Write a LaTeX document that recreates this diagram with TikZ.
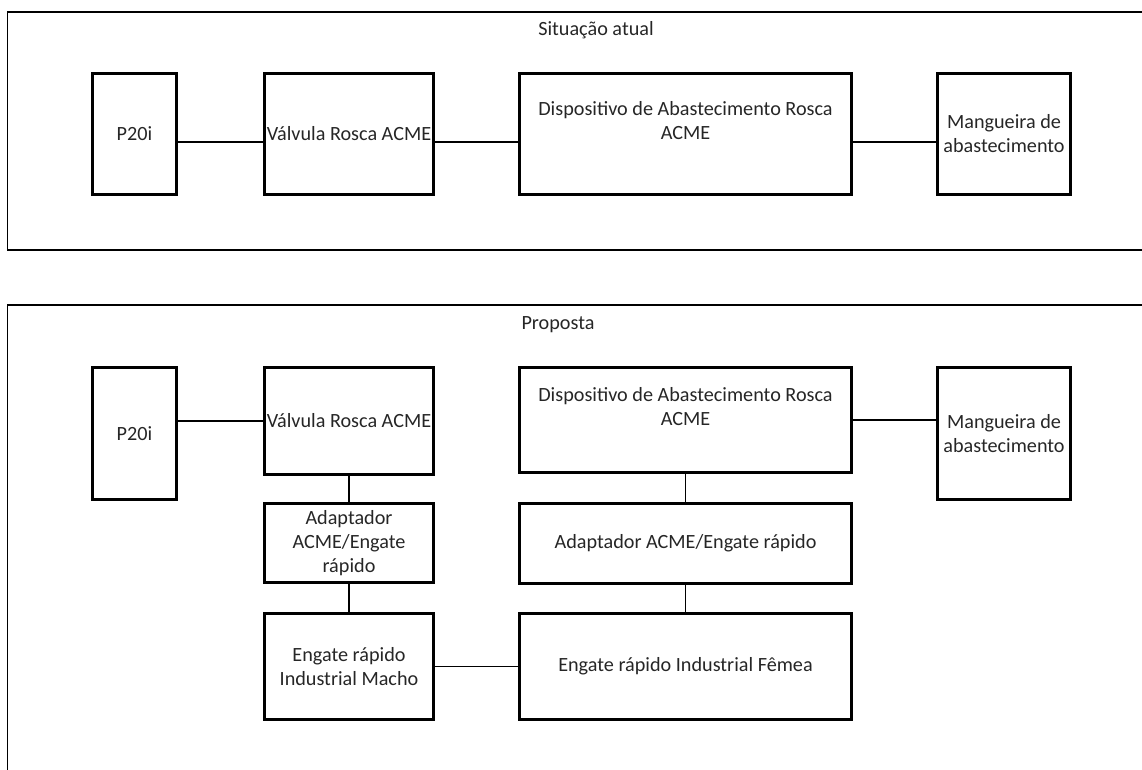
\documentclass[tikz,border=0pt]{standalone}
\usepackage{fontspec}
\setmainfont{Carlito}
\begin{document}
\begin{tikzpicture}[x=1pt,y=-1pt,
  box/.style={draw, line width=3pt, align=center, inner sep=0pt,
    font=\fontsize{20.2}{24}\selectfont, text=black!85},
  link/.style={line width=1.6pt},
  frame/.style={line width=2pt},
  frameside/.style={line width=1pt},
  title/.style={font=\fontsize{20.2}{24}\selectfont, text=black!85, inner sep=0pt}]
\useasboundingbox (0,0) rectangle (1142,769);

% ---- frames ----
\coordinate (f1a) at (1160,12);
\coordinate (f1b) at (7,12);
\coordinate (f1c) at (7,250);
\coordinate (f1d) at (1160,250);
\draw[frame] (f1a) -- (f1b);
\draw[frameside] (f1b) -- (f1c);
\draw[frame] (f1c) -- (f1d);

\coordinate (f2a) at (1160,305);
\coordinate (f2b) at (7,305);
\coordinate (f2c) at (7,790);
\draw[frame] (f2a) -- (f2b);
\draw[frameside] (f2b) -- (f2c);

\node[title] (t1) at (596,30) {Situação atual};
\node[title] (t2) at (558,325) {Proposta};

% ---- current situation ----
\node[box, minimum width=84pt, minimum height=121pt] (p1) at (134.5,134) {P20i};
\node[box, minimum width=169pt, minimum height=121pt] (v1) at (349,134) {Válvula Rosca ACME};
\node[box, minimum width=332pt, minimum height=121pt] (d1) at (685.5,134) {Dispositivo de Abastecimento Rosca\\ACME\\[3pt]};
\node[box, minimum width=133pt, minimum height=121pt] (m1) at (1004,134) {Mangueira de\\abastecimento};

\coordinate (y1) at (0,142);
\draw[link] (p1.east |- y1) -- (v1.west |- y1);
\draw[link] (v1.east |- y1) -- (d1.west |- y1);
\draw[link] (d1.east |- y1) -- (m1.west |- y1);

% ---- proposal ----
\node[box, minimum width=84pt, minimum height=132pt] (p2) at (134.5,433.5) {P20i};
\node[box, minimum width=169pt, minimum height=107pt] (v2) at (349,421) {Válvula Rosca ACME};
\node[box, minimum width=332pt, minimum height=105pt] (d2) at (685.5,420) {Dispositivo de Abastecimento Rosca\\ACME\\[3pt]};
\node[box, minimum width=133pt, minimum height=132pt] (m2) at (1004,433.5) {Mangueira de\\abastecimento};

\node[box, minimum width=169pt, minimum height=79pt] (a2) at (349,543) {Adaptador\\ACME/Engate\\rápido};
\node[box, minimum width=332pt, minimum height=80pt] (b2) at (685.5,543.5) {Adaptador ACME/Engate rápido};

\node[box, minimum width=169pt, minimum height=106pt] (e2) at (349,666.5) {Engate rápido\\Industrial Macho};
\node[box, minimum width=332pt, minimum height=106pt] (f2) at (685.5,666.5) {Engate rápido Industrial Fêmea};

\draw[link] (p2.east |- v2.west) -- (v2.west);
\draw[link] (d2.east) -- (m2.west |- d2.east);
\draw[link] (v2.south) -- (a2.north);
\draw[link] (a2.south) -- (e2.north);
\draw[link] (d2.south) -- (b2.north);
\draw[link] (b2.south) -- (f2.north);
\draw[link] (e2.east) -- (f2.west);
\end{tikzpicture}
\end{document}
